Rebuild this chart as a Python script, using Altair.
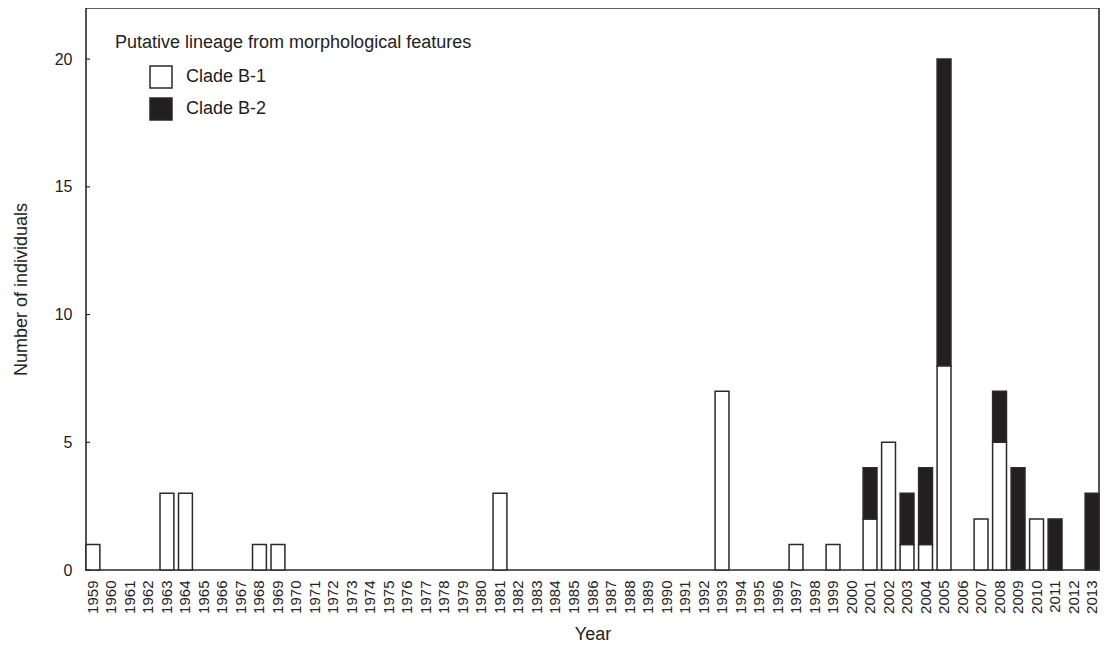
import altair as alt
import pandas as pd

all_years = [str(y) for y in range(1959, 2014)]

b1_years = [1959, 1963, 1964, 1968, 1969, 1981, 1993, 1997, 1999, 2001, 2002,
            2003, 2004, 2005, 2007, 2008, 2010]
b1_counts = [1, 3, 3, 1, 1, 3, 7, 1, 1, 2, 5, 1, 1, 8, 2, 5, 2]
b2_years = [2001, 2003, 2004, 2005, 2008, 2009, 2011, 2013]
b2_counts = [2, 2, 3, 12, 2, 4, 2, 3]

series = ["Clade B-1", "Clade B-2"]
y_ticks = [0, 5, 10, 15, 20]

rows = []
for y, c in zip(b1_years, b1_counts):
    rows.append({"Year": str(y), "Clade": series[0], "n": c, "ord": 0})
for y, c in zip(b2_years, b2_counts):
    rows.append({"Year": str(y), "Clade": series[1], "n": c, "ord": 1})
df = pd.DataFrame(rows)
ticks_df = pd.DataFrame({"v": y_ticks})

FONT = "Liberation Sans"
INK = "#222222"
LINE = "#2a2a2a"

yscale = alt.Scale(domain=[0, 22], nice=False, zero=True)

bars = alt.Chart(df).mark_bar(stroke=LINE, strokeWidth=1.5).encode(
    x=alt.X("Year:N", scale=alt.Scale(domain=all_years, paddingInner=0.25, paddingOuter=0),
            sort=all_years,
            axis=alt.Axis(title="Year", labelAngle=-90, labelFontSize=15, labelPadding=10,
                          tickSize=0, domain=False, titleFontSize=18, titlePadding=12,
                          titleFontWeight="normal", labelColor=INK, titleColor=INK,
                          labelFont=FONT, titleFont=FONT)),
    y=alt.Y("n:Q", stack="zero", scale=yscale,
            axis=alt.Axis(title="Number of individuals", values=y_ticks, tickSize=0,
                          labelPadding=14, labelFontSize=16, domain=False, grid=False,
                          titleFontSize=18, titlePadding=24, titleFontWeight="normal",
                          labelColor=INK, titleColor=INK, labelFont=FONT, titleFont=FONT)),
    color=alt.Color("Clade:N", scale=alt.Scale(domain=series, range=["#ffffff", "#231f20"]),
                    legend=alt.Legend(title="Putative lineage from morphological features",
                                      orient="none", legendX=29, legendY=26,
                                      padding=0, titleFontSize=18, titleFontWeight="normal",
                                      titleFont=FONT, titleColor=INK, titlePadding=13,
                                      labelFontSize=18, labelFont=FONT, labelColor=INK,
                                      symbolType="square", symbolSize=484,
                                      symbolStrokeColor=LINE, symbolStrokeWidth=1.5,
                                      symbolOffset=34, labelOffset=13, rowPadding=4,
                                      titleLimit=600)),
    order=alt.Order("ord:Q", sort="ascending"),
)

tick_marks = alt.Chart(ticks_df).mark_rule(color=LINE, strokeWidth=1.2).encode(
    y=alt.Y("v:Q", scale=yscale),
    x=alt.value(0),
    x2=alt.value(4),
)

chart = alt.layer(bars, tick_marks).properties(
    width=1013,
    height=562,
    background="white",
    padding={"left": 78, "top": 0, "right": 2, "bottom": 78},
    autosize=alt.AutoSizeParams(type="none"),
).configure_view(
    stroke=LINE, strokeWidth=1.6
)

chart.save("out.html", embed_options={"renderer": "svg", "actions": False})
